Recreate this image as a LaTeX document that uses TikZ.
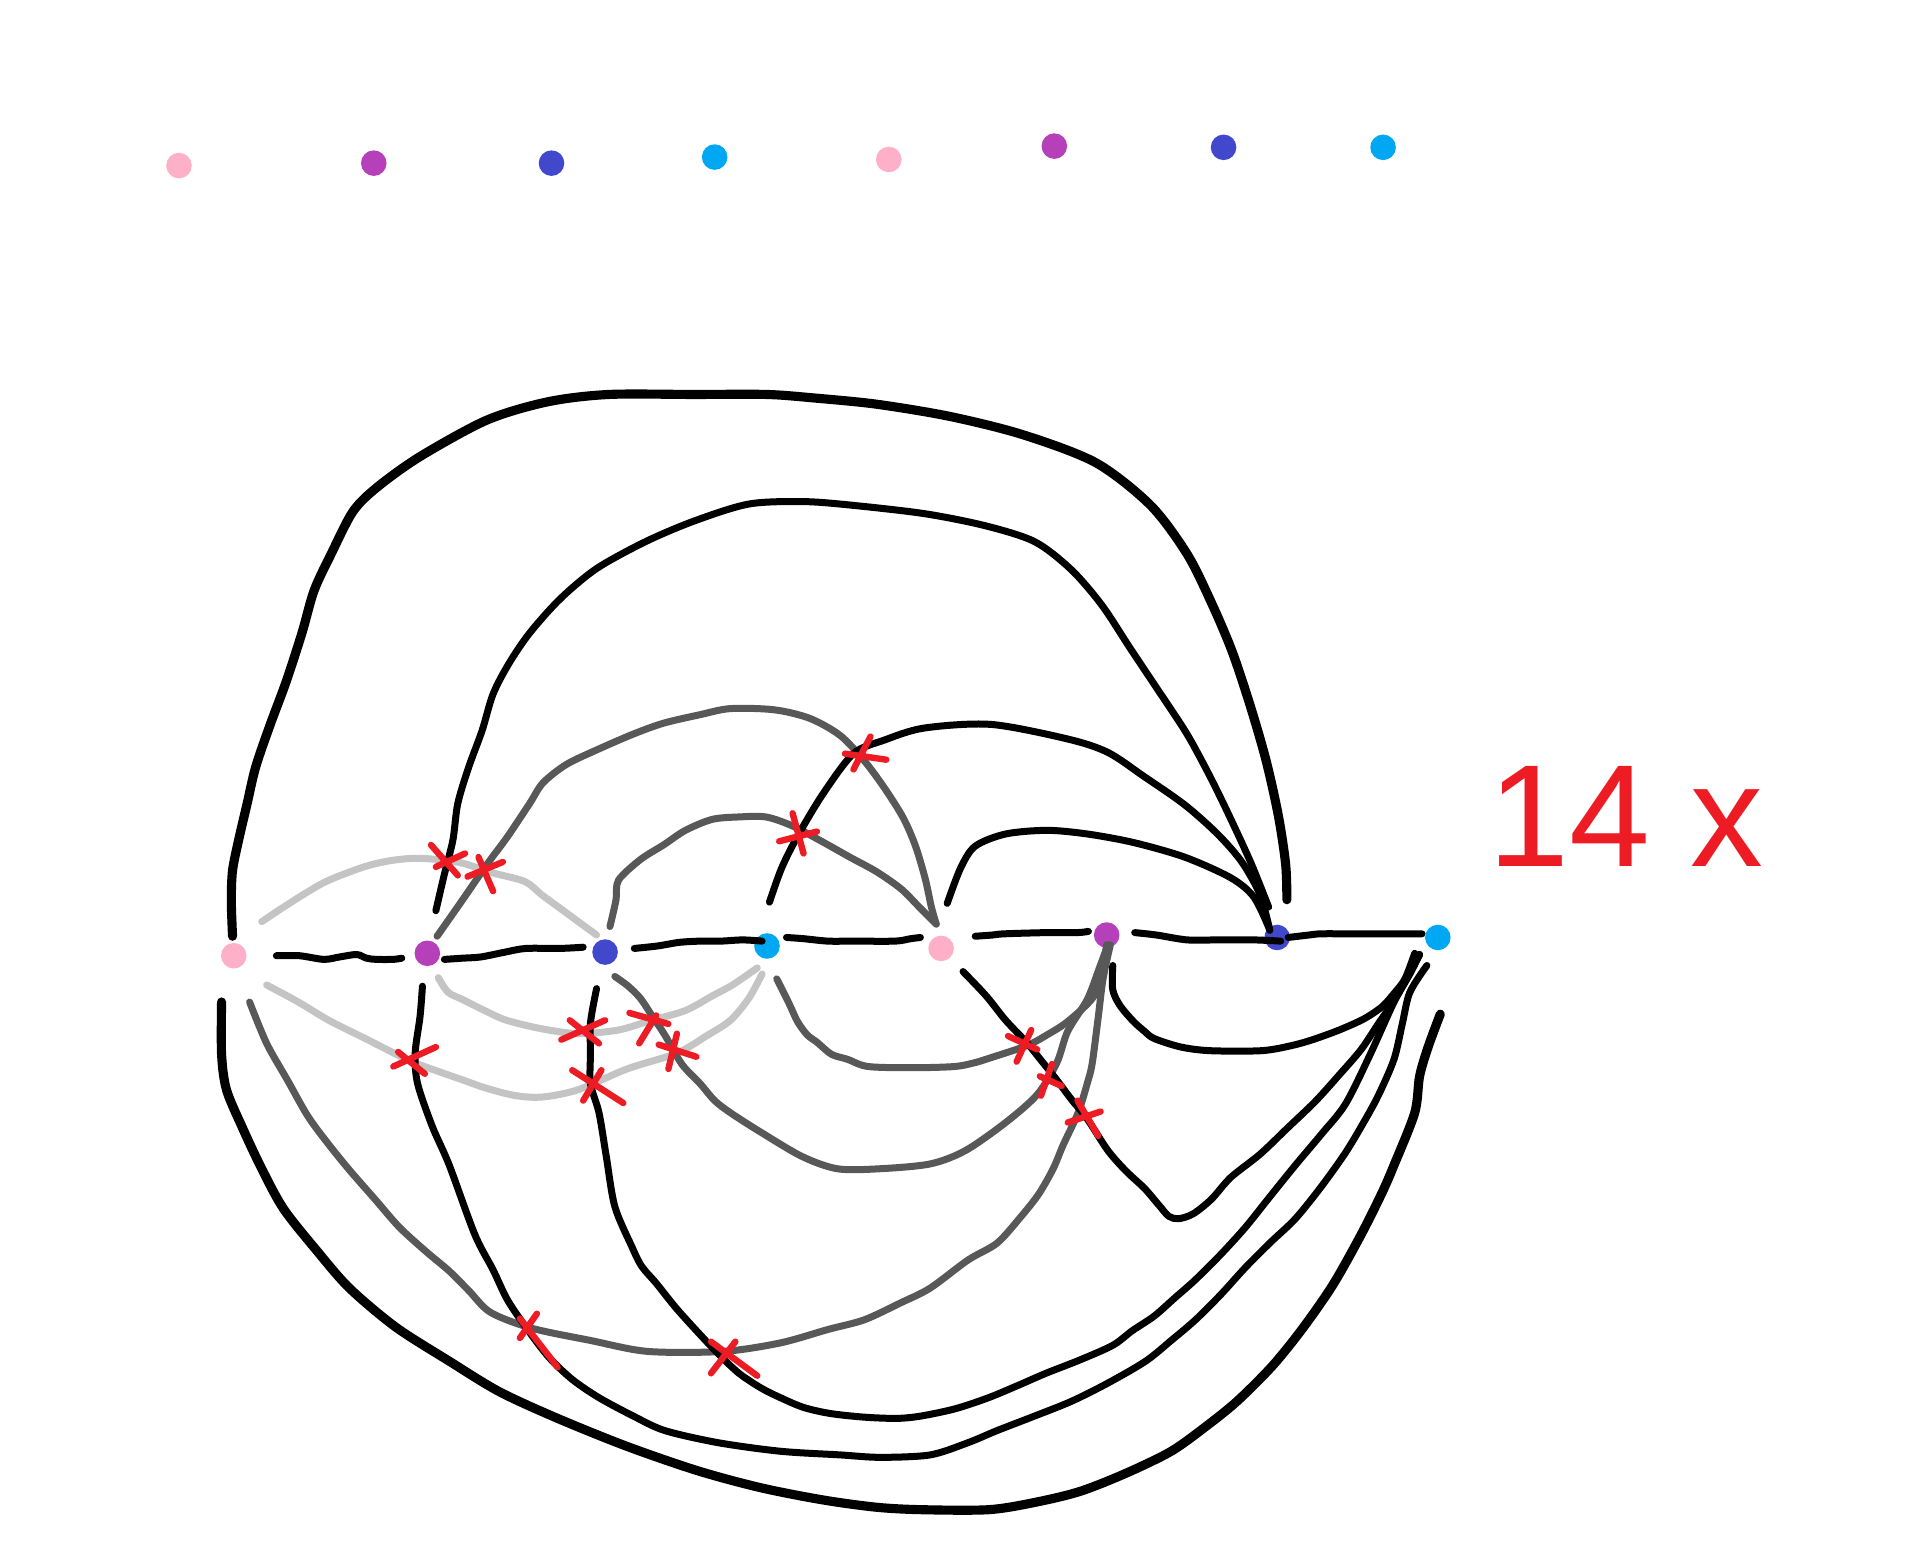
\documentclass[tikz,border=0pt]{standalone}
\usepackage{fontspec}
\newfontfamily\handfont{Liberation Sans}
\definecolor{pinkdot}{HTML}{FFB0C9}
\definecolor{purpledot}{HTML}{B540BA}
\definecolor{bluedot}{HTML}{4148CC}
\definecolor{cyandot}{HTML}{00A8F3}
\definecolor{darkline}{HTML}{585858}
\definecolor{lightline}{HTML}{C4C4C4}
\definecolor{crossred}{HTML}{ED1C24}
\usetikzlibrary{calc}
\tikzset{
  dot/.style={circle, inner sep=0pt, minimum size=4.2mm},
  wire/.style={line width=1.15mm, line cap=round, line join=round},
  hard/.style={wire, draw=black},
  mid/.style={wire, draw=darkline},
  faint/.style={wire, draw=lightline},
  heavy/.style={wire, draw=black, line width=1.5mm},
  cut/.style={draw=crossred, line width=1.05mm, line cap=round},
}

\begin{document}
\begin{tikzpicture}[x=0.2mm,y=-0.2mm]
\fill[white] (0,0) rectangle (1568,1267);
% colour key
\foreach \n/\x/\y/\c in {tpk1/147/136/pinkdot,tpu1/307/134/purpledot,tbl1/453/134/bluedot,tcy1/587/129/cyandot,
  tpk2/730/131/pinkdot,tpu2/866/120/purpledot,tbl2/1005/121/bluedot,tcy2/1136/121/cyandot}
  \node[dot,fill=\c] (\n) at (\x,\y) {};
% the row
\foreach \n/\x/\y/\c in {pk1/192/785/pinkdot,pu1/351/783/purpledot,bl1/497/782/bluedot,cy1/630/777/cyandot,
  pk2/773/779/pinkdot,pu2/909/768/purpledot,bl2/1049/770/bluedot,cy2/1181/770/cyandot}
  \node[dot,fill=\c] (\n) at (\x,\y) {};

% light grey
\draw[faint] plot[smooth] coordinates {($(pk1)+(23,-28)$) (233,745) (252,733) (270,723) (299,712) (320,707) (340,705) (360,706) (380,709) (405,717) (431,724) (445,735) (460,746) (475,757) ($(bl1)+(-7,-14)$)};
\draw[faint] plot[smooth] coordinates {($(pu1)+(9,20)$) (368,815) (380,821) (398,830) (416,838) (445,845) (475,849) (508,846) (535,838) (563,830) (585,818) (600,810) (612,802) ($(cy1)+(-8,18)$)};
\draw[faint] plot[smooth] coordinates {($(pk1)+(27,24)$) (245,823) (270,838) (300,853) (336,871) (360,880) (380,887) (400,894) (424,900) (446,901) (475,895) (515,878) (556,865) (580,851) (600,838) (615,820) ($(cy1)+(-4,23)$)};

% dark grey
\draw[mid] plot[smooth] coordinates {($(pu1)+(8,-14)$) (380,739) (400,710) (417,687) (435,660) (446,643) (465,628) (490,616) (520,603) (545,594) (575,587) (600,582) (636,583) (665,590) (690,604) (710,625) (727,648) (742,672) (752,695) (760,722) (765,745) ($(pk2)+(-4,-20)$)};
\draw[mid] plot[smooth] coordinates {($(bl1)+(4,-21)$) (506,739) (508,723) (526,706) (545,694) (563,682) (585,673) (607,671) (629,671) (650,678) (673,690) (698,704) (720,716) (740,730) (755,745) ($(pk2)+(-4,-20)$)};
\draw[mid] plot[smooth] coordinates {($(pk1)+(13,38)$) (219,857) (236,887) (253,917) (270,940) (287,961) (308,985) (328,1008) (350,1028) (369,1044) (385,1060) (403,1078) (437,1091) (485,1101) (532,1110) (594,1110) (641,1103) (680,1092) (710,1084) (740,1070) (764,1058) (795,1035) (819,1021) (838,1000) (853,981) (865,960) (873,941) (882,922) (887,910) (893,890) (897,874) (902,836) (906,804) ($(pu2)+(3,8)$)};
\draw[mid] plot[smooth] coordinates {($(bl1)+(8,20)$) (516,810) (526,820) (536,835) (546,850) (560,874) (575,890) (587,904) (600,914) (625,930) (659,950) (688,960) (722,960) (764,956) (793,945) (826,922) (852,899) (868,873) (877,847) (893,821) (903,795) ($(pu2)+(1,8)$)};
\draw[mid] plot[smooth] coordinates {($(cy1)+(8,27)$) (648,824) (655,839) (663,850) (671,856) (683,866) (696,870) (713,876) (750,877) (784,876) (800,873) (810,870) (843,859) (860,850) (877,839) (898,819) (905,798) ($(pu2)+(0,8)$)};

% black, along the row
\draw[hard] plot[smooth] coordinates {($(pk1)+(35,0)$) (246,785) (266,788) (279,786) (293,784) (301,787) (309,788) (323,788) ($(pu1)+(-21,4)$)};
\draw[hard] plot[smooth] coordinates {($(pu1)+(14,5)$) (380,787) (395,786) (415,782) (432,779) (460,779) ($(bl1)+(-18,-4)$)};
\draw[hard] plot[smooth] coordinates {($(bl1)+(24,-3)$) (540,777) (558,774) (575,773) (592,773) (610,772) ($(cy1)+(-4,-4)$)};
\draw[hard] plot[smooth] coordinates {($(cy1)+(16,-7)$) (660,771) (680,773) (700,773) (735,773) (748,771) ($(pk2)+(-17,-9)$)};
\draw[hard] plot[smooth] coordinates {($(pk2)+(28,-10)$) (815,768) (825,767) (860,766) (885,766) ($(pu2)+(-15,-3)$)};
\draw[hard] plot[smooth] coordinates {($(pu2)+(23,-2)$) (950,768) (975,772) (1000,772) (1030,772) ($(bl2)+(3,3)$)};
\draw[hard] plot[smooth] coordinates {($(bl2)+(9,0)$) (1075,768) (1085,767) (1110,767) (1140,767) ($(cy2)+(-13,-3)$)};

% black, above
\draw[heavy] plot[smooth] coordinates {($(pk1)+(-1,-16)$) (190,740) (191,715) (196,690) (203,660) (210,630) (222,595) (235,560) (248,520) (258,485) (272,455) (290,420) (310,400) (345,375) (400,345) (450,330) (500,324) (570,324) (630,324) (670,327) (720,332) (780,342) (840,357) (900,380) (945,415) (975,455) (995,495) (1012,535) (1027,580) (1040,625) (1050,670) (1056,710) ($(bl2)+(8,-31)$)};
\draw[hard] plot[smooth] coordinates {($(pu1)+(7,-35)$) (365,718) (372,690) (376,660) (385,630) (396,600) (405,570) (418,545) (435,520) (460,492) (490,467) (530,445) (570,428) (615,414) (660,412) (700,415) (760,422) (810,432) (850,445) (880,468) (905,497) (928,532) (950,565) (975,603) (995,640) (1012,675) (1028,710) ($(bl2)+(-7,-25)$)};
\draw[hard] plot[smooth] coordinates {($(cy1)+(2,-36)$) (642,713) (655,687) (676,652) (701,619) (726,608) (759,598) (814,595) (877,607) (910,618) (940,638) (973,661) (1000,685) (1020,708) (1035,735) ($(bl2)+(-6,-6)$)};
\draw[hard] plot[smooth] coordinates {($(pk2)+(5,-37)$) (789,713) (801,695) (826,685) (860,682) (893,685) (931,692) (973,704) (1011,721) (1030,737) ($(bl2)+(-6,-6)$)};

% black, below
\draw[heavy] plot[smooth] coordinates {($(pk1)+(-10,38)$) (182,866) (186,895) (199,926) (215,960) (233,993) (260,1027) (287,1058) (325,1090) (369,1118) (410,1143) (458,1165) (515,1188) (573,1208) (625,1222) (676,1232) (720,1238) (757,1240) (812,1240) (850,1234) (887,1225) (925,1210) (962,1192) (990,1172) (1016,1151) (1045,1122) (1070,1091) (1095,1055) (1118,1014) (1135,980) (1145,957) (1162,914) (1166,884) (1173,860) ($(cy2)+(2,63)$)};
\draw[hard] plot[smooth] coordinates {($(pu1)+(-4,27)$) (345,835) (341,865) (343,890) (355,925) (369,957) (390,1014) (405,1043) (417,1068) (434,1093) (451,1115) (470,1133) (492,1148) (520,1163) (546,1175) (590,1185) (641,1192) (690,1195) (723,1197) (764,1195) (795,1185) (819,1175) (850,1163) (880,1151) (910,1136) (941,1118) (962,1101) (982,1084) (1003,1063) (1023,1041) (1044,1020) (1064,1001) (1085,975) (1105,947) (1120,922) (1132,900) (1145,870) (1152,840) (1158,815) ($(cy2)+(-9,23)$)};
\draw[hard] plot[smooth] coordinates {($(bl1)+(-7,30)$) (485,840) (485,865) (485,890) (492,914) (498,950) (505,991) (519,1024) (527,1040) (539,1054) (555,1074) (573,1094) (590,1112) (607,1128) (625,1140) (641,1148) (660,1156) (682,1161) (710,1164) (737,1165) (757,1163) (785,1157) (812,1148) (836,1138) (859,1128) (887,1117) (914,1105) (930,1093) (948,1081) (965,1066) (982,1051) (1003,1030) (1023,1008) (1043,983) (1064,957) (1085,932) (1105,907) (1125,867) (1145,823) (1158,800) ($(cy2)+(-15,14)$)};
\draw[hard] plot[smooth] coordinates {($(pk2)+(18,19)$) (810,818) (826,838) (843,856) (856,872) (868,887) (880,903) (893,919) (910,945) (925,962) (940,976) (952,990) (960,999) (968,1001) (980,997) (995,985) (1011,967) (1035,948) (1057,927) (1080,905) (1099,884) (1118,862) (1132,841) (1145,822) (1157,801) ($(cy2)+(-15,14)$)};
\draw[hard] plot[smooth] coordinates {($(pu2)+(5,25)$) (914,813) (920,826) (931,839) (940,847) (948,853) (970,860) (994,863) (1036,863) (1060,859) (1078,854) (1100,846) (1120,837) (1135,827) (1145,816) (1154,804) ($(cy2)+(-19,13)$)};

% crossings
\foreach \a/\b/\c/\d/\e/\f/\g/\h in {354/694/376/719/358/712/382/701, 393/704/405/732/384/720/413/708,
  651/668/660/701/640/691/671/683, 694/619/728/624/715/605/701/632, 323/876/358/860/327/864/349/882,
  461/854/497/838/468/838/492/857, 517/832/549/841/539/834/525/857, 541/858/572/868/556/849/549/878,
  470/879/512/906/494/879/479/904, 427/1083/458/1123/441/1079/427/1099, 584/1128/604/1102/584/1102/622/1130,
  828/851/852/862/847/846/835/872, 854/884/872/892/864/874/855/900, 877/922/904/913/885/904/902/933}
  \draw[cut] (\a,\b)--(\c,\d) (\e,\f)--(\g,\h);
\node[anchor=base west,text=crossred,font=\handfont\fontsize{68}{72}\selectfont,inner sep=0pt] (count) at (1222,712) {14 x};
\end{tikzpicture}
\end{document}
